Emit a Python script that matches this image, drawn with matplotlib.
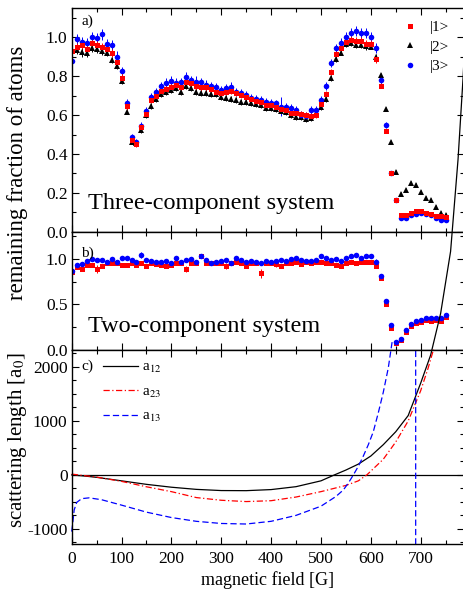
import matplotlib
matplotlib.use("Agg")
import numpy as np
import matplotlib.pyplot as plt
from matplotlib.lines import Line2D
from matplotlib.ticker import MultipleLocator

plt.rcParams['font.family'] = ['Liberation Serif', 'DejaVu Serif']
plt.rcParams['mathtext.fontset'] = 'stix'

# ── data ──────────────────────────────────────────────────────────────
# magnetic field grid of the loss measurements [G]
field = [0, 10, 20, 30, 40, 50, 60, 70, 80, 90,
         100, 110, 120, 130, 140, 150, 160, 170, 180, 190,
         200, 210, 220, 230, 240, 250, 260, 270, 280, 290,
         300, 310, 320, 330, 340, 350, 360, 370, 380, 390,
         400, 410, 420, 430, 440, 450, 460, 470, 480, 490,
         500, 510, 520, 530, 540, 550, 560, 570, 580, 590,
         600, 610, 620, 630, 640, 650, 660, 670, 680, 690,
         700, 710, 720, 730, 740, 750]

# a) three-component mixture, remaining fraction of each state
three_s1 = [0.93, 0.95, 0.96, 0.94, 0.97, 0.96, 0.95, 0.94, 0.92, 0.875,
            0.79, 0.647, 0.472, 0.451, 0.54, 0.604, 0.678, 0.70, 0.726, 0.733,
            0.746, 0.755, 0.743, 0.772, 0.764, 0.75, 0.743, 0.743, 0.733, 0.72,
            0.712, 0.72, 0.726, 0.715, 0.704, 0.692, 0.681, 0.673, 0.669, 0.652,
            0.652, 0.643, 0.631, 0.626, 0.609, 0.612, 0.606, 0.60, 0.595, 0.60,
            0.657, 0.709, 0.824, 0.915, 0.944, 0.978, 0.987, 0.98, 0.98, 0.965,
            0.965, 0.888, 0.752, 0.518, 0.303, 0.162, 0.085, 0.085, 0.097, 0.107,
            0.107, 0.097, 0.092, 0.078, 0.078, 0.076]
three_s2 = [0.93, 0.935, 0.924, 0.918, 0.944, 0.941, 0.932, 0.922, 0.884, 0.853,
            0.777, 0.618, 0.463, 0.455, 0.523, 0.60, 0.647, 0.683, 0.709, 0.72,
            0.729, 0.738, 0.72, 0.75, 0.738, 0.72, 0.712, 0.715, 0.709, 0.709,
            0.695, 0.687, 0.681, 0.678, 0.669, 0.669, 0.664, 0.657, 0.652, 0.635,
            0.638, 0.63, 0.623, 0.618, 0.60, 0.592, 0.588, 0.578, 0.583, 0.609,
            0.643, 0.681, 0.79, 0.888, 0.922, 0.965, 0.97, 0.961, 0.961, 0.957,
            0.953, 0.901, 0.807, 0.63, 0.463, 0.308, 0.192, 0.214, 0.248, 0.24,
            0.205, 0.171, 0.162, 0.128, 0.097, 0.085]
three_s3 = [0.879, 0.992, 0.978, 0.97, 1.004, 0.996, 1.016, 0.965, 0.961, 0.901,
            0.829, 0.661, 0.489, 0.463, 0.545, 0.621, 0.695, 0.72, 0.75, 0.764,
            0.776, 0.764, 0.769, 0.795, 0.781, 0.772, 0.772, 0.755, 0.75, 0.743,
            0.729, 0.738, 0.743, 0.72, 0.712, 0.704, 0.687, 0.681, 0.678, 0.669,
            0.663, 0.66, 0.643, 0.64, 0.635, 0.626, 0.60, 0.595, 0.626, 0.626,
            0.678, 0.75, 0.87, 0.944, 0.973, 1.004, 1.022, 1.034, 1.022, 1.022,
            1.001, 0.944, 0.781, 0.547, 0.303, 0.162, 0.068, 0.068, 0.085, 0.092,
            0.097, 0.09, 0.085, 0.071, 0.061, 0.061]
three_err1 = [0.02, 0.02, 0.02, 0.02, 0.02, 0.02, 0.02, 0.02, 0.02, 0.02,
              0.025, 0.02, 0.015, 0.015, 0.015, 0.015, 0.015, 0.015, 0.02, 0.02,
              0.02, 0.02, 0.02, 0.02, 0.02, 0.02, 0.02, 0.02, 0.02, 0.02,
              0.015, 0.015, 0.015, 0.015, 0.015, 0.015, 0.015, 0.015, 0.015, 0.015,
              0.015, 0.015, 0.015, 0.015, 0.015, 0.015, 0.015, 0.015, 0.015, 0.015,
              0.015, 0.015, 0.015, 0.015, 0.015, 0.02, 0.02, 0.02, 0.02, 0.02,
              0.02, 0.02, 0.015, 0.01, 0.01, 0.01, 0.01, 0.01, 0.01, 0.01,
              0.01, 0.01, 0.01, 0.01, 0.01, 0.01]
three_err2 = [0.02, 0.02, 0.025, 0.02, 0.02, 0.02, 0.02, 0.02, 0.015, 0.015,
              0.015, 0.01, 0.01, 0.01, 0.015, 0.015, 0.015, 0.015, 0.015, 0.015,
              0.015, 0.015, 0.015, 0.015, 0.015, 0.015, 0.015, 0.015, 0.015, 0.015,
              0.015, 0.015, 0.015, 0.015, 0.015, 0.015, 0.015, 0.015, 0.015, 0.015,
              0.015, 0.015, 0.015, 0.015, 0.015, 0.015, 0.015, 0.015, 0.015, 0.015,
              0.015, 0.015, 0.015, 0.015, 0.015, 0.015, 0.015, 0.015, 0.015, 0.02,
              0.015, 0.015, 0.01, 0.01, 0.01, 0.01, 0.01, 0.01, 0.01, 0.01,
              0.01, 0.01, 0.01, 0.01, 0.01, 0.01]
three_err3 = [0.03, 0.025, 0.025, 0.025, 0.025, 0.025, 0.03, 0.025, 0.025, 0.03,
              0.02, 0.02, 0.015, 0.015, 0.02, 0.02, 0.02, 0.02, 0.02, 0.025,
              0.025, 0.025, 0.02, 0.025, 0.02, 0.03, 0.02, 0.025, 0.02, 0.02,
              0.02, 0.02, 0.025, 0.02, 0.02, 0.02, 0.02, 0.02, 0.02, 0.02,
              0.02, 0.02, 0.05, 0.02, 0.02, 0.02, 0.02, 0.02, 0.02, 0.02,
              0.02, 0.02, 0.02, 0.02, 0.025, 0.025, 0.025, 0.025, 0.025, 0.025,
              0.025, 0.025, 0.02, 0.015, 0.01, 0.01, 0.01, 0.01, 0.01, 0.01,
              0.01, 0.01, 0.01, 0.01, 0.01, 0.01]

# b) two-component mixture
two_s1 = [0.86, 0.91, 0.89, 0.93, 0.93, 0.89, 0.92, 0.95, 0.96, 0.96,
          0.93, 0.93, 0.95, 0.93, 0.96, 0.92, 0.95, 0.94, 0.93, 0.92,
          0.93, 0.95, 0.95, 0.89, 0.95, 0.95, 1.03, 0.96, 0.95, 0.96,
          0.95, 0.92, 0.96, 0.97, 0.95, 0.92, 0.95, 0.96, 0.84, 0.95,
          0.95, 0.94, 0.92, 0.96, 0.95, 0.97, 0.94, 0.97, 0.95, 0.97,
          0.97, 0.95, 0.96, 0.93, 0.92, 0.95, 0.97, 0.95, 0.97, 0.97,
          0.97, 0.92, 0.79, 0.50, 0.24, 0.08, 0.11, 0.20, 0.26, 0.30,
          0.31, 0.33, 0.32, 0.33, 0.32, 0.36]
two_s2 = [0.87, 0.93, 0.94, 0.98, 1.00, 0.99, 0.99, 0.97, 1.00, 0.97,
          1.01, 1.01, 0.99, 0.97, 1.04, 0.99, 0.98, 0.97, 0.97, 0.98,
          0.95, 1.01, 0.97, 0.99, 1.00, 0.97, 1.03, 0.99, 0.96, 0.97,
          0.98, 0.99, 0.95, 1.01, 0.99, 0.97, 0.98, 0.97, 0.96, 0.98,
          0.97, 0.98, 0.99, 0.98, 1.00, 1.01, 0.99, 0.98, 0.98, 0.99,
          1.03, 1.01, 0.99, 1.00, 0.98, 1.01, 1.03, 1.04, 1.01, 1.03,
          1.03, 0.97, 0.81, 0.54, 0.27, 0.09, 0.12, 0.22, 0.28, 0.32,
          0.33, 0.35, 0.35, 0.35, 0.35, 0.38]
two_err1 = [0.03, 0.02, 0.02, 0.02, 0.02, 0.045, 0.02, 0.02, 0.02, 0.02,
            0.02, 0.02, 0.02, 0.02, 0.02, 0.02, 0.02, 0.02, 0.02, 0.02,
            0.02, 0.02, 0.02, 0.035, 0.02, 0.02, 0.02, 0.02, 0.02, 0.02,
            0.02, 0.03, 0.02, 0.02, 0.02, 0.02, 0.02, 0.02, 0.05, 0.02,
            0.02, 0.03, 0.02, 0.02, 0.02, 0.02, 0.02, 0.02, 0.02, 0.02,
            0.02, 0.02, 0.02, 0.02, 0.02, 0.02, 0.02, 0.02, 0.02, 0.02,
            0.02, 0.02, 0.015, 0.015, 0.01, 0.01, 0.01, 0.01, 0.01, 0.01,
            0.01, 0.01, 0.01, 0.01, 0.01, 0.01]
two_err2 = [0.03, 0.02, 0.02, 0.02, 0.025, 0.02, 0.02, 0.02, 0.02, 0.02,
            0.02, 0.02, 0.02, 0.02, 0.035, 0.02, 0.02, 0.02, 0.02, 0.02,
            0.02, 0.02, 0.02, 0.02, 0.02, 0.02, 0.02, 0.02, 0.02, 0.02,
            0.02, 0.02, 0.02, 0.02, 0.02, 0.02, 0.02, 0.02, 0.02, 0.02,
            0.02, 0.02, 0.02, 0.02, 0.02, 0.02, 0.02, 0.02, 0.02, 0.02,
            0.02, 0.02, 0.02, 0.02, 0.02, 0.02, 0.02, 0.02, 0.02, 0.02,
            0.02, 0.025, 0.015, 0.015, 0.01, 0.01, 0.01, 0.01, 0.01, 0.01,
            0.01, 0.01, 0.01, 0.01, 0.01, 0.01]

# c) scattering lengths [a0]
b_12 = [0, 25, 50, 100, 150, 200, 250, 300, 350, 400, 450, 500, 527, 550,
        575, 600, 625, 650, 675, 700, 720, 740, 760, 775, 785, 792]
a_12 = [0, -20, -45, -110, -175, -228, -268, -290, -292, -272, -218, -110, 0, 90,
        200, 350, 560, 800, 1100, 1700, 2220, 2990, 4140, 5850, 7350, 8600]
b_23 = [0, 50, 100, 150, 200, 250, 300, 350, 400, 450, 500, 550, 575, 592,
        600, 625, 650, 675, 700, 715, 726]
a_23 = [15, -40, -120, -220, -310, -420, -470, -494, -478, -410, -310, -195, -110, 0,
        70, 290, 610, 1000, 1560, 1980, 2330]
b_13 = [0, 2, 5, 10, 20, 35, 60, 100, 150, 200, 250, 300, 350, 400, 450, 500,
        530, 545, 555, 565, 575, 585, 595, 605, 615, 625, 635, 643,
        np.nan, 690, 690]
a_13 = [-1050, -900, -650, -510, -440, -425, -460, -560, -690, -790, -860, -900, -910,
        -860, -750, -580, -400, -278, -150, 0, 160, 350, 560, 800, 1150, 1530, 1980, 2480,
        np.nan, 2300, -1320]

# ── figure ───────────────────────────────────────────────────────────
fig = plt.figure(figsize=(4.64, 5.9), dpi=100)
L, W = 0.1545, 0.8445
ax_a = fig.add_axes([L, 0.6075, W, 0.3784])
ax_b = fig.add_axes([L, 0.4068, W, 0.2007])
ax_c = fig.add_axes([L, 0.078, W, 0.3288])

eb = dict(capsize=1.8, elinewidth=0.7, capthick=0.7, mew=0, ls='none')
ax_a.errorbar(field, three_s2, yerr=three_err2, fmt='^', color='black', ms=4.2, **eb)
ax_a.errorbar(field, three_s3, yerr=three_err3, fmt='o', color='#0000FF', ms=4.0, **eb)
ax_a.errorbar(field, three_s1, yerr=three_err1, fmt='s', color='#FF0000', ms=3.6, **eb)

ax_b.errorbar(field, two_s1, yerr=two_err1, fmt='s', color='#FF0000', ms=3.6, **eb)
ax_b.errorbar(field, two_s2, yerr=two_err2, fmt='o', color='#0000FF', ms=4.0, **eb)

ax_c.axhline(0, color='black', lw=0.9)
ax_c.plot(b_12, a_12, color='black', lw=0.9, clip_on=False, label='a$_{12}$')
ax_c.plot(b_23, a_23, color='#FF0000', lw=0.9, clip_on=False,
          dashes=[5, 2, 1, 2], label='a$_{23}$')
ax_c.plot(b_13, a_13, color='#0000FF', lw=0.9, clip_on=False,
          dashes=[5, 2.5], label='a$_{13}$')

for ax in (ax_a, ax_b, ax_c):
    ax.set_xlim(0, 786)
    ax.xaxis.set_major_locator(MultipleLocator(100))
    ax.xaxis.set_minor_locator(MultipleLocator(50))
    ax.tick_params(which='both', direction='in', top=True, right=True,
                   labelsize=12.5, width=0.8, pad=3)
    ax.tick_params(which='major', length=5)
    ax.tick_params(which='minor', length=3)
    for s in ax.spines.values():
        s.set_linewidth(1.0)

ax_a.set_ylim(0, 1.15)
ax_a.yaxis.set_minor_locator(MultipleLocator(0.1))
ax_a.set_yticks([0.0, 0.2, 0.4, 0.6, 0.8, 1.0])
ax_a.set_yticklabels(['0.0', '0.2', '0.4', '0.6', '0.8', '1.0'])
ax_a.tick_params(labelbottom=False)

ax_b.set_ylim(0, 1.3)
ax_b.set_yticks([0.0, 0.5, 1.0])
ax_b.set_yticklabels(['0.0', '0.5', '1.0'])
ax_b.yaxis.set_minor_locator(MultipleLocator(0.25))
ax_b.tick_params(labelbottom=False)

ax_c.set_ylim(-1280, 2315)
ax_c.set_yticks([-1000, 0, 1000, 2000])
ax_c.set_yticklabels(['-1000', '0', '1000', '2000'])
ax_c.yaxis.set_minor_locator(MultipleLocator(250))
ax_c.tick_params(axis='x', pad=5)
ax_c.set_xticks([0, 100, 200, 300, 400, 500, 600, 700])
ax_c.set_xlabel('magnetic field [G]', fontsize=13, labelpad=3)

# panel texts
ax_a.text(0.024, 0.944, 'a)', transform=ax_a.transAxes, fontsize=11, va='center')
ax_b.text(0.024, 0.819, 'b)', transform=ax_b.transAxes, fontsize=11, va='center')
ax_c.text(0.024, 0.914, 'c)', transform=ax_c.transAxes, fontsize=11, va='center')
ax_a.text(0.042, 0.101, 'Three-component system', transform=ax_a.transAxes,
          fontsize=17.5, va='baseline')
ax_b.text(0.042, 0.155, 'Two-component system', transform=ax_b.transAxes,
          fontsize=17.5, va='baseline')

fig.text(18 / 464, 1 - 173 / 590, 'remaining fraction of atoms', rotation=90,
         ha='center', va='center', fontsize=16.5)
fig.text(18 / 464, 1 - 440 / 590, 'scattering length [a$_0$]', rotation=90,
         ha='center', va='center', fontsize=15)

# legends
hnd = [Line2D([], [], ls='none', marker='s', color='#FF0000', ms=3.6, mew=0),
       Line2D([], [], ls='none', marker='^', color='black', ms=4.2, mew=0),
       Line2D([], [], ls='none', marker='o', color='#0000FF', ms=4.0, mew=0)]
ax_a.legend(hnd, ['|1>', '|2>', '|3>'], loc='upper left',
            bbox_to_anchor=(0.844, 0.945), frameon=False, fontsize=11,
            handlelength=1.0, handletextpad=0.8, labelspacing=0.38,
            borderpad=0, borderaxespad=0)
ax_c.legend(loc='upper left', bbox_to_anchor=(0.08, 0.945), frameon=False,
            fontsize=11, handlelength=2.29, handletextpad=0.26,
            labelspacing=0.62, borderpad=0, borderaxespad=0)

fig.savefig('out.png', dpi=100)
